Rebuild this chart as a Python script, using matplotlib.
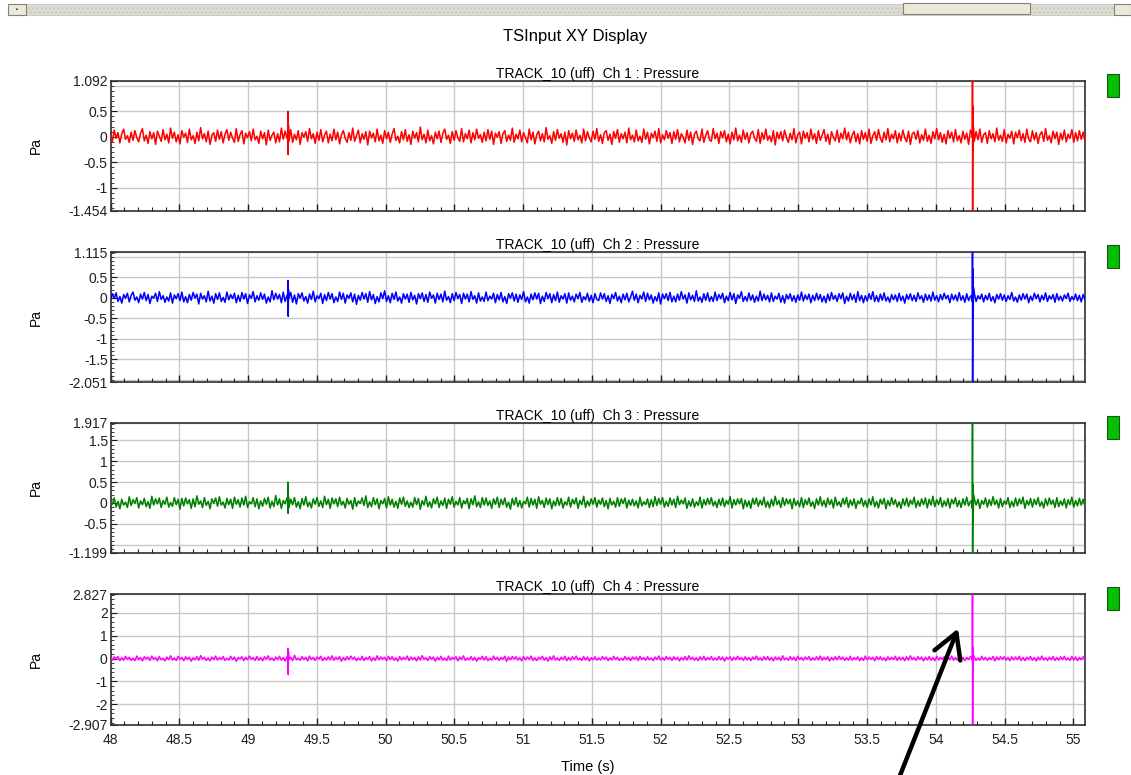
import numpy as np
import matplotlib
matplotlib.use('Agg')
import matplotlib.pyplot as plt
from matplotlib.ticker import MultipleLocator, FixedLocator, FixedFormatter
from matplotlib.patches import Rectangle, FancyArrowPatch

plt.rcParams['font.family'] = ['Liberation Sans', 'DejaVu Sans']

# ---------------- data ----------------
T_START, T_END = 48.0, 55.085
X_TICKS = [48, 48.5, 49, 49.5, 50, 50.5, 51, 51.5, 52, 52.5, 53, 53.5, 54, 54.5, 55]
X_TICK_LABELS = ['48', '48.5', '49', '49.5', '50', '50.5', '51', '51.5', '52',
                 '52.5', '53', '53.5', '54', '54.5', '55']

MAIN_TITLE = 'TSInput XY Display'
CH_TITLES = ['TRACK_10 (uff)  Ch 1 : Pressure', 'TRACK_10 (uff)  Ch 2 : Pressure',
             'TRACK_10 (uff)  Ch 3 : Pressure', 'TRACK_10 (uff)  Ch 4 : Pressure']
CH_COLORS = ['#ff0000', '#0000ff', '#008000', '#ff00ff']
Y_LABEL = 'Pa'
X_LABEL = 'Time (s)'

Y_LIMITS = [(-1.454, 1.092), (-2.051, 1.115), (-1.199, 1.917), (-2.907, 2.827)]
Y_TICKS = [[-1.454, -1, -0.5, 0, 0.5, 1.092],
           [-2.051, -1.5, -1, -0.5, 0, 0.5, 1.115],
           [-1.199, -0.5, 0, 0.5, 1, 1.5, 1.917],
           [-2.907, -2, -1, 0, 1, 2, 2.827]]
Y_TICK_LABELS = [['-1.454', '-1', '-0.5', '0', '0.5', '1.092'],
                 ['-2.051', '-1.5', '-1', '-0.5', '0', '0.5', '1.115'],
                 ['-1.199', '-0.5', '0', '0.5', '1', '1.5', '1.917'],
                 ['-2.907', '-2', '-1', '0', '1', '2', '2.827']]
Y_EXTRA_GRID = [[1.0], [-2.0, 1.0], [-1.0], []]
Y_MINOR_STEP = [0.1, 0.1, 0.1, 0.2]

# background noise, hundredths of Pa, evenly sampled over the time window
NOISE_1 = [4,-9,13,-3,8,-12,6,15,-5,2,-11,9,-7,12,-2,-10,7,16,-8,3,
           -13,10,-4,8,-15,11,1,-9,14,-6,5,-12,17,-3,9,-10,4,-14,12,-1,
           7,-11,15,-6,2,-13,9,-8,18,-4,6,-10,11,-15,3,8,-9,13,-5,10,
           -12,5,14,-7,9,-3,-11,16,-9,4,12,-14,7,-2,10,-8,15,-6,1,-13,
           11,-4,8,-16,13,-7,3,9,-12,6,-10,17,-5,11,-3,-9,14,-11,5,-6,
           12,-15,8,-1,10,-9,16,-4,6,-13,9,-7,14,-10,3,11,-12,5,-8,15,
           -6,9,-14,4,12,-3,-11,8,-7,17,-9,2,13,-12,6,-5,10,-16,11,-2,
           7,-10,15,-8,3,-13,12,-4,9,-11,5,16,-7,1,-12,10,-6,14,-9,4,
           -15,11,-3,8,-10,19,-6,5,-12,13,-8,2,-14,9,-4,11,-11,7,15,-5,
           3,-13,10,-7,12,-2,-9,16,-10,6,-4,13,-12,8,-6,15,-3,4,-11,9,
           -8,14,-5,11,-15,7,-1,10,-13,6,12,-9,3,-7,17,-11,5,-4,13,-10,
           8,-2,-12,15,-6,9,-14,4,11,-8,6,-10,18,-5,2,-13,10,-7,14,-3,
           6,-11,9,-16,12,-4,7,-9,13,-6,3,-12,15,-8,10,-2,-10,11,-5,16,
           -9,4,-13,8,12,-7,5,-15,10,-3,14,-11,6,-4,9,-12,17,-6,3,-10,
           13,-8,1,-11,15,-5,9,-14,7,-2,11,-9,16,-12,4,-6,12,-3,8,-13,
           10,-5,14,-10,6,-1,-12,13,-7,9,-15,5,11,-4,-8,15,-11,3,12,-6,
           -9,16,-4,7,-13,10,-2,12,-10,5,-14,9,-6,17,-8,3,-11,13,-5,8,
           -12,6,11,-3,-9,14,-13,8,-5,15,-7,2,-10,12,-16,9,-4,10,-8,13,
           -2,-11,7,-6,16,-12,4,9,-14,11,-3,8,-10,15,-5,6,-13,12,-7,3,
           14,-9,5,-15,10,-1,-8,13,-11,7,-4,17,-6,9,-12,3,11,-10,6,-14,
           12,-5,8,-9,15,-13,2,10,-7,14,-3,-11,9,-6,16,-10,5,-4,12,-12,
           7,-8,13,-2,-10,11,-15,6,9,-5,12,-12,4,-7,15,-9,3,-13,10,-4,
           16,-6,8,-11,5,-14,12,-3,9,-10,14,-8,2,-12,11,-5,7,-15,13,-1,
           -9,10,-6,15,-11,4,8,-13,12,-4,6,-10,17,-7,3,-9,14,-12,5,-3,
           11,-14,9,-2,13,-8,6,-11,15,-5,-10,12,-6,8,-13,4,10,-9,16,-7,
           2,-12,11,-4,9,-15,7,-6,13,-10,5,-3,14,-11,8,-8,12,-5,9,-10]
NOISE_2 = [-5,10,-2,12,-9,3,-13,8,-1,11,-10,6,14,-6,2,-12,9,-3,13,-7,
           8,-14,4,-1,11,-9,15,-4,5,-11,2,-8,12,-13,7,-2,10,-7,14,-10,
           3,-12,8,-6,13,-1,9,-15,11,-3,5,-10,16,-8,4,-13,10,-4,12,-9,
           1,-11,14,-5,8,-2,11,-12,6,-9,13,-3,10,-14,7,-1,15,-10,5,-6,
           12,-4,9,-13,2,-10,17,-5,11,-3,8,-12,14,-9,6,-2,13,-11,7,-15,
           10,-1,12,-8,3,-13,9,-4,16,-10,5,-2,11,-14,8,-7,13,-3,10,-12,
           2,-9,14,-4,11,-13,7,-1,12,-10,9,-16,6,-6,13,-3,10,-11,15,-5,
           8,-14,3,-10,12,-2,17,-9,5,-12,11,-4,14,-8,2,-13,10,-3,9,-11,
           13,-5,6,-15,10,-2,12,-9,8,-11,14,-1,7,-13,11,-4,9,-10,16,-6,
           3,-12,10,-7,13,-2,8,-14,11,-3,9,-10,15,-4,5,-13,12,-8,2,-9,
           14,-7,4,-3,11,-12,8,-5,13,-10,3,-14,10,-1,12,-8,9,-11,7,-4,
           15,-10,2,-13,9,-5,12,-3,11,-14,4,-9,13,-2,10,-12,8,-7,14,-11,
           5,-3,10,-13,12,-6,4,-10,9,-2,13,-11,3,-5,11,-9,6,-12,10,-4,
           -7,12,-3,10,-9,5,-14,8,-2,13,-8,4,-12,9,-5,11,-10,2,16,-6,
           9,-12,6,-3,14,-9,11,-5,7,-13,3,-8,12,-15,9,-2,10,-7,13,-10,
           4,-10,9,-6,15,-3,7,-13,12,-5,6,-9,17,-8,2,-11,10,-6,12,-9,
           3,-9,14,-7,8,-2,11,-12,4,-7,13,-5,10,-14,7,-1,15,-9,3,-8,
           12,-6,7,-11,4,-8,16,-7,9,-5,6,-10,12,-9,4,-3,11,-11,5,-13,
           8,-3,10,-8,5,-11,7,-6,14,-8,7,-4,9,-12,6,-7,11,-5,8,-10,
           4,-12,9,-7,13,-4,6,-9,10,-2,12,-14,4,-8,11,-5,8,-11,15,-7,
           6,-12,5,-8,10,-4,15,-9,5,-10,9,-6,12,-8,2,-11,8,-5,7,-9,
           11,-7,4,-13,8,-4,10,-7,6,-9,12,-3,5,-11,9,-6,7,-8,14,-6,
           5,-10,8,-5,11,-2,6,-12,9,-5,7,-8,13,-6,5,-11,10,-7,4,-9,
           12,-9,5,-3,9,-10,6,-5,11,-8,3,-12,8,-3,10,-6,7,-9,5,-4,
           13,-8,2,-11,7,-6,10,-3,9,-12,4,-7,11,-2,8,-10,6,-5,12,-9,
           5,-3,8,-11,10,-6,4,-8,7,-2,11,-9,3,-5,9,-7,6,-10,8,-4]
NOISE_3 = [7,-3,12,-10,4,-14,9,-5,2,-11,15,-6,8,-1,13,-12,5,-4,11,-9,
           3,-13,16,-5,10,-2,12,-11,6,-3,14,-10,1,-8,13,-4,9,-15,11,-7,
           12,-2,8,-13,10,-9,17,-3,5,-11,13,-6,4,-14,10,-1,12,-8,15,-5,
           2,-12,11,-4,9,-13,14,-3,8,-10,12,-5,16,-11,3,-2,13,-9,10,-14,
           5,-8,11,-3,14,-12,4,-9,18,-5,10,-13,6,-2,12,-11,9,-4,13,-10,
           3,-14,11,-5,15,-9,2,-12,10,-3,13,-8,5,-11,16,-4,9,-13,12,-2,
           10,-9,14,-5,4,-12,11,-3,6,-15,13,-8,5,-1,12,-6,17,-11,3,-9,
           13,-4,10,-14,6,-2,11,-12,15,-5,9,-10,4,-13,12,-3,14,-8,5,-11,
           2,-10,13,-4,11,-15,6,-5,16,-9,3,-12,10,-2,14,-11,5,-6,12,-13,
           9,-3,15,-10,4,-5,13,-12,6,-2,11,-14,10,-4,17,-9,3,-11,13,-5,
           12,-6,5,-13,10,-3,14,-11,9,-4,12,-10,2,-15,11,-5,13,-9,6,-12,
           4,-2,14,-10,11,-5,9,-13,15,-3,6,-11,12,-4,10,-14,5,-7,13,-6,
           11,-12,3,-5,14,-10,9,-2,12,-13,6,-4,16,-11,5,-7,10,-3,13,-10,
           7,-3,12,-9,6,-14,11,-5,4,-10,13,-8,10,-1,12,-12,7,-6,9,-7,
           5,-12,14,-7,3,-4,10,-11,8,-9,15,-6,11,-3,13,-10,4,-8,12,-5,
           9,-11,16,-4,7,-2,12,-13,5,-8,10,-10,3,-6,14,-12,8,-5,11,-3,
           13,-7,4,-11,9,-6,12,-9,6,-3,15,-12,8,-5,10,-2,11,-14,7,-9,
           5,-13,11,-3,12,-8,7,-5,14,-10,4,-12,9,-7,16,-4,6,-11,13,-6,
           10,-2,9,-14,11,-6,5,-9,13,-11,8,-4,12,-8,3,-13,10,-5,15,-7,
           6,-10,12,-4,8,-12,14,-6,3,-9,11,-3,13,-11,7,-6,10,-13,5,-2,
           12,-8,6,-11,10,-5,15,-9,4,-12,9,-3,11,-14,6,-7,13,-4,8,-10,
           3,-13,10,-6,12,-9,7,-3,14,-11,5,-8,10,-4,12,-12,9,-5,16,-9,
           8,-4,13,-10,5,-7,11,-12,9,-2,13,-9,6,-11,10,-5,14,-7,4,-12,
           11,-5,9,-13,6,-3,12,-10,8,-6,15,-4,7,-12,11,-9,5,-3,13,-11,
           4,-9,12,-7,10,-2,14,-13,6,-5,11,-10,9,-4,13,-8,3,-12,10,-6,
           12,-3,7,-11,13,-9,5,-6,10,-12,8,-4,14,-10,6,-7,11,-5,9,-8]
NOISE_4 = [3,-6,8,-2,9,-9,4,-7,10,-3,6,-8,2,-9,11,-4,5,-10,8,-1,
           6,-8,11,-3,4,-9,9,-5,2,-10,7,-4,12,-6,3,-8,10,-2,5,-9,
           8,-3,6,-11,4,-5,9,-7,13,-2,6,-8,3,-10,7,-4,11,-6,5,-3,
           9,-8,2,-6,10,-4,7,-12,5,-1,8,-9,6,-5,11,-3,4,-8,9,-7,
           5,-10,8,-2,12,-6,3,-9,7,-4,10,-7,5,-11,8,-3,6,-8,14,-5,
           2,-7,9,-4,6,-10,11,-3,5,-8,7,-2,10,-9,4,-6,8,-5,12,-7,
           6,-3,9,-11,5,-7,8,-4,11,-2,7,-9,3,-6,10,-8,5,-3,9,-10,
           4,-8,12,-5,7,-2,6,-9,10,-4,8,-7,3,-11,9,-5,6,-3,11,-8,
           7,-4,5,-10,8,-6,13,-3,4,-8,9,-2,7,-11,6,-5,10,-7,3,-9,
           11,-6,5,-2,8,-10,7,-4,12,-8,3,-5,9,-7,6,-11,4,-3,10,-6,
           8,-9,2,-7,11,-4,6,-8,5,-3,10,-12,7,-5,9,-2,8,-6,4,-10,
           9,-5,7,-3,11,-8,4,-9,6,-2,10,-7,5,-11,8,-4,12,-6,3,-8,
           6,-4,10,-9,5,-7,8,-3,11,-5,2,-8,9,-6,7,-10,4,-5,8,-7,
           3,-6,9,-3,7,-9,4,-6,10,-4,6,-8,2,-7,9,-5,5,-9,7,-2,
           7,-8,10,-4,5,-7,8,-5,3,-9,7,-4,11,-6,4,-7,9,-3,6,-8,
           8,-4,6,-10,5,-6,9,-6,12,-3,6,-7,4,-9,8,-5,10,-7,5,-4,
           9,-7,3,-6,9,-5,7,-11,6,-2,8,-8,6,-5,10,-4,5,-8,8,-6,
           5,-9,7,-3,11,-6,4,-8,8,-5,9,-7,5,-10,7,-4,6,-8,12,-5,
           3,-7,9,-5,6,-9,10,-4,5,-7,7,-3,9,-8,4,-6,8,-5,11,-7,
           6,-4,8,-10,5,-6,8,-5,10,-3,7,-8,4,-7,10,-7,5,-4,8,-9,
           4,-8,11,-5,7,-3,6,-9,9,-4,8,-6,4,-10,8,-5,6,-4,10,-8,
           7,-5,6,-9,8,-6,12,-4,5,-8,9,-3,7,-10,6,-6,9,-7,4,-9,
           10,-6,5,-3,8,-9,7,-5,11,-7,4,-6,9,-7,6,-9,5,-4,9,-6,
           7,-8,3,-7,10,-5,6,-8,5,-4,9,-10,7,-5,8,-3,8,-6,5,-9,
           8,-5,7,-4,10,-8,5,-9,6,-3,9,-7,5,-10,7,-5,11,-6,4,-8,
           6,-5,9,-8,5,-7,8,-4,10,-6,3,-8,9,-6,7,-9,5,-5,8,-7]

# transient events (time in s, pressure in Pa)
EVENT_T_1 = [49.288, 49.290, 49.292, 49.294, 54.265, 54.267, 54.268, 54.270, 54.272, 54.274]
EVENT_V_1 = [0.05, 0.50, -0.35, 0.22, 0.05, 1.092, -1.454, 0.60, -0.30, 0.18]
EVENT_T_2 = [49.288, 49.290, 49.292, 49.294, 54.265, 54.267, 54.268, 54.270, 54.272, 54.274]
EVENT_V_2 = [0.05, 0.42, -0.45, 0.20, 0.05, 1.115, -2.051, 0.70, -0.50, 0.25]
EVENT_T_3 = [49.288, 49.290, 49.292, 49.294, 54.265, 54.267, 54.268, 54.270, 54.272, 54.274]
EVENT_V_3 = [0.05, 0.50, -0.25, 0.15, 0.05, 1.917, -1.199, 0.45, -0.50, 0.20]
EVENT_T_4 = [49.288, 49.290, 49.292, 49.294, 54.265, 54.267, 54.268, 54.270, 54.272, 54.274]
EVENT_V_4 = [0.05, 0.45, -0.70, 0.30, 0.05, 2.827, -2.907, 0.50, -0.40, 0.15]

NOISES = [NOISE_1, NOISE_2, NOISE_3, NOISE_4]
EVENTS_T = [EVENT_T_1, EVENT_T_2, EVENT_T_3, EVENT_T_4]
EVENTS_V = [EVENT_V_1, EVENT_V_2, EVENT_V_3, EVENT_V_4]

# ---------------- figure ----------------
W, H = 1131, 775
fig = plt.figure(figsize=(W / 100, H / 100), dpi=100)
fig.patch.set_facecolor('white')

def fx(px):
    return px / W

def fy(py):
    return 1 - py / H

# scrollbar strip at top
fig.patches.append(Rectangle((fx(26), fy(15)), fx(1131 - 26), (15 - 4) / H,
                             transform=fig.transFigure, facecolor='#dcdcd4',
                             edgecolor='#c8c8c0', lw=0.6, hatch='....', zorder=1))
fig.patches.append(Rectangle((fx(8), fy(15)), fx(18), (15 - 4) / H,
                             transform=fig.transFigure, facecolor='#ece9d8',
                             edgecolor='#808080', lw=0.8, zorder=2))
fig.patches.append(Rectangle((fx(903), fy(14)), fx(127), (14 - 3) / H,
                             transform=fig.transFigure, facecolor='#ece9d8',
                             edgecolor='#808080', lw=0.8, zorder=2))
fig.patches.append(Rectangle((fx(1114), fy(15)), fx(17), (15 - 4) / H,
                             transform=fig.transFigure, facecolor='#ece9d8',
                             edgecolor='#808080', lw=0.8, zorder=2))
fig.text(fx(17), fy(10), '\u25aa', fontsize=4, ha='center', va='center', color='black')

fig.text(fx(575), fy(36), MAIN_TITLE, fontsize=12, ha='center', va='center')

AX_LEFT, AX_RIGHT = 110.5, 1085
PANEL_TOPS = [81, 252, 423, 594]
PANEL_BOTTOMS = [211, 382, 553, 725]

for i in range(4):
    top, bot = PANEL_TOPS[i], PANEL_BOTTOMS[i]
    ax = fig.add_axes([fx(AX_LEFT), fy(bot), fx(AX_RIGHT - AX_LEFT), (bot - top) / H])

    noise = np.array(NOISES[i], dtype=float) / 100.0
    t_noise = np.linspace(T_START, T_END, len(noise))
    t_all = np.concatenate([t_noise, np.array(EVENTS_T[i])])
    v_all = np.concatenate([noise, np.array(EVENTS_V[i])])
    order = np.argsort(t_all, kind='stable')
    ax.plot(t_all[order], v_all[order], color=CH_COLORS[i], lw=1.1, zorder=3)

    ax.set_xlim(T_START, T_END)
    ax.set_ylim(*Y_LIMITS[i])
    ax.xaxis.set_major_locator(FixedLocator(X_TICKS))
    ax.xaxis.set_minor_locator(MultipleLocator(0.1))
    ax.yaxis.set_major_locator(FixedLocator(Y_TICKS[i]))
    ax.yaxis.set_major_formatter(FixedFormatter(Y_TICK_LABELS[i]))
    ax.yaxis.set_minor_locator(MultipleLocator(Y_MINOR_STEP[i]))
    if i == 3:
        ax.set_xticklabels(X_TICK_LABELS)
    else:
        ax.tick_params(axis='x', which='both', labelbottom=False)

    ax.grid(True, which='major', color='#c8c8c8', lw=1.0, zorder=0)
    for yv in Y_EXTRA_GRID[i]:
        ax.axhline(yv, color='#c8c8c8', lw=1.0, zorder=0)

    ax.tick_params(axis='both', which='both', direction='in', colors='#202020',
                   top=False, right=False, labelsize=10, pad=2)
    ax.tick_params(axis='x', which='major', length=5, width=1.0, pad=6)
    ax.tick_params(axis='x', which='minor', length=3, width=0.8)
    ax.tick_params(axis='y', which='major', length=4, width=0.8)
    ax.tick_params(axis='y', which='minor', length=2.5, width=0.6)
    for s in ax.spines.values():
        s.set_color('#303030')
        s.set_linewidth(1.2)

    ax.set_title(CH_TITLES[i], fontsize=10, pad=2.5)
    fig.text(fx(36), fy((top + bot) / 2), Y_LABEL, fontsize=10, rotation=90,
             ha='center', va='center')

    # green status box on the right
    fig.patches.append(Rectangle((fx(1107), fy(top + 16)), fx(12), 23 / H,
                                 transform=fig.transFigure, facecolor='#00c000',
                                 edgecolor='#205020', lw=0.8, zorder=2))

fig.text(fx(588), fy(774), X_LABEL, fontsize=10.5, ha='center', va='bottom')

# annotation arrow
fig.add_artist(FancyArrowPatch(
    (fx(899), fy(778)), (fx(959), fy(626)), transform=fig.transFigure,
    arrowstyle='->,head_length=7,head_width=4', lw=3.2, color='black',
    mutation_scale=2.5, zorder=10))

fig.savefig('out.png', dpi=100, facecolor='white')
